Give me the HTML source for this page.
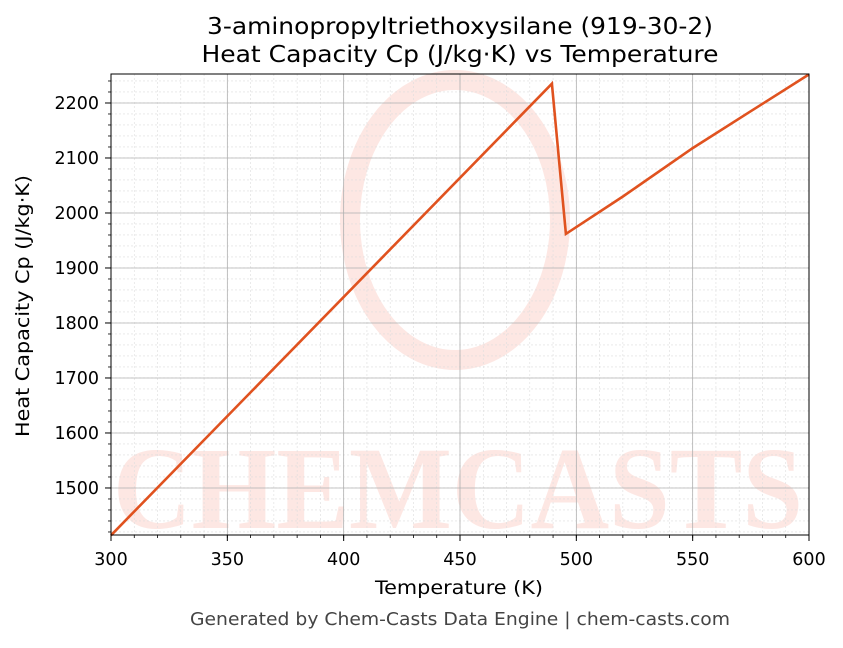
<!DOCTYPE html>
<html><head><meta charset="utf-8"><style>
body{margin:0;background:#fff;font-family:"DejaVu Sans","Liberation Sans",sans-serif}
svg text{font-family:"DejaVu Sans","Liberation Sans",sans-serif}
</style></head><body>
<svg id="chart" width="843" height="644" xmlns="http://www.w3.org/2000/svg">
<rect width="843" height="644" fill="#fff"/>
<g id="wm" opacity="0.5">
<ellipse cx="455" cy="220" rx="105" ry="140" fill="none" stroke="#fcd0c8" stroke-width="20"/>
<text x="458" y="528" text-anchor="middle" font-size="118" font-weight="bold" fill="#fcd0c8" style="font-family:'Liberation Serif',serif" textLength="690" lengthAdjust="spacingAndGlyphs">CHEMCASTS</text>
</g>
<g id="grid"></g>
<g id="axes"></g>
<path id="line" fill="none" stroke="#e0521f" stroke-width="2.6"/>
<rect x="111" y="74" width="698" height="461" fill="none" stroke="#000" stroke-width="1"/>
<text x="460" y="34" text-anchor="middle" font-size="23" textLength="506" lengthAdjust="spacingAndGlyphs">3-aminopropyltriethoxysilane (919-30-2)</text>
<text x="460" y="62" text-anchor="middle" font-size="23" textLength="517" lengthAdjust="spacingAndGlyphs">Heat Capacity Cp (J/kg·K) vs Temperature</text>
<text x="459" y="594" text-anchor="middle" font-size="19" textLength="168" lengthAdjust="spacingAndGlyphs">Temperature (K)</text>
<text transform="translate(29,306) rotate(-90)" text-anchor="middle" font-size="19" textLength="262" lengthAdjust="spacingAndGlyphs">Heat Capacity Cp (J/kg·K)</text>
<text x="460" y="625" text-anchor="middle" font-size="18" fill="#444" textLength="540" lengthAdjust="spacingAndGlyphs">Generated by Chem-Casts Data Engine | chem-casts.com</text>
</svg>
<script>
const temps=[300,489.5,495.5,520,550,575,600];
const cpValues=[1414,2235,1962,2030,2118,2185,2252];
const xTicks=[300,350,400,450,500,550,600];
const yTicks=[1500,1600,1700,1800,1900,2000,2100,2200];
const X0=111,X1=809,Y0=535,Y1=74,xmin=300,xmax=600,ymin=1414.5,ymax=2252.7;
const xs=v=>X0+(v-xmin)/(xmax-xmin)*(X1-X0);
const ys=v=>Y0-(v-ymin)/(ymax-ymin)*(Y0-Y1);
const NS="http://www.w3.org/2000/svg";
const grid=document.getElementById('grid'),axes=document.getElementById('axes');
function ln(p,x1,y1,x2,y2,st,w,da){const l=document.createElementNS(NS,'line');l.setAttribute('x1',x1);l.setAttribute('y1',y1);l.setAttribute('x2',x2);l.setAttribute('y2',y2);l.setAttribute('stroke',st);l.setAttribute('stroke-width',w);if(da)l.setAttribute('stroke-dasharray',da);p.appendChild(l);return l;}
for(let v=300;v<=600;v+=10){const x=xs(v);
const g=ln(grid,x,Y1,x,Y0,'#ddd',0.6,'2,2');


ln(axes,x,Y0,x,Y0+3,'#000',0.8);}
for(let v=1420;v<=2250;v+=20){const y=ys(v);
const g=ln(grid,X0,y,X1,y,'#ddd',0.6,'2,2');


ln(axes,X0-3,y,X0,y,'#000',0.8);}
xTicks.forEach(v=>{const x=xs(v);
const g=ln(grid,x,Y1,x,Y0,'#b0b0b0',0.8);


ln(axes,x,Y0,x,Y0+6,'#000',1);
const t=document.createElementNS(NS,'text');t.setAttribute('x',x);t.setAttribute('y',Y0+30);t.setAttribute('text-anchor','middle');t.setAttribute('font-size','17.5');t.textContent=v;


axes.appendChild(t);});
yTicks.forEach(v=>{const y=ys(v);
const g=ln(grid,X0,y,X1,y,'#b0b0b0',0.8);


ln(axes,X0-6,y,X0,y,'#000',1);
const t=document.createElementNS(NS,'text');t.setAttribute('x',X0-12);t.setAttribute('y',y+6);t.setAttribute('text-anchor','end');t.setAttribute('font-size','17.5');t.textContent=v;


axes.appendChild(t);});
document.getElementById('line').setAttribute('d',temps.map((t,i)=>(i?'L':'M')+xs(t).toFixed(1)+','+ys(cpValues[i]).toFixed(1)).join(''));
</script>
</body></html>
